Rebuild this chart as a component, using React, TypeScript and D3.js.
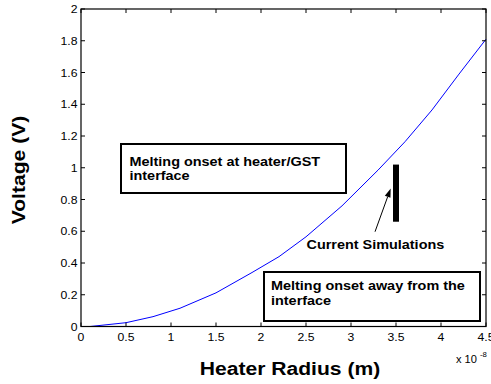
import React from "react";
import * as d3 from "d3";

// Heater radius (units of 1e-8 m) and required voltage (V)
const radius = [0.1, 0.5, 0.8, 1.1, 1.5, 1.9, 2.2, 2.5, 2.9, 3.3, 3.6, 3.9, 4.2, 4.5];
const voltage = [0.0, 0.024, 0.062, 0.115, 0.212, 0.34, 0.44, 0.565, 0.76, 0.985, 1.164, 1.364, 1.59, 1.81];

const xTicks = [0, 0.5, 1, 1.5, 2, 2.5, 3, 3.5, 4, 4.5];
const yTicks = [0, 0.2, 0.4, 0.6, 0.8, 1, 1.2, 1.4, 1.6, 1.8, 2];

// Range of the current simulations (radius, voltage span)
const simRadius = 3.5;
const simVoltage = [0.66, 1.02];
// Arrow from the label to the simulation bar
const arrowFrom = [3.267, 0.597];
const arrowTo = [3.441, 0.87];

const W = 491;
const H = 384;
const M = { left: 81, right: 486, top: 9, bottom: 326.5 };
const SX = 1.11;
const FONT = "'Liberation Sans', Arial, Helvetica, sans-serif";

type TProps = {
  x: number;
  y: number;
  size: number;
  anchor?: "start" | "middle" | "end";
  weight?: string | number;
  rotate?: number;
  children: React.ReactNode;
};

function Label({ x, y, size, anchor = "start", weight = "normal", rotate = 0, children }: TProps) {
  return (
    <text
      transform={`translate(${x},${y}) rotate(${rotate}) scale(${SX},1)`}
      textAnchor={anchor}
      fontSize={size}
      fontWeight={weight}
      fontFamily={FONT}
      fill="#000"
    >
      {children}
    </text>
  );
}

export default function App() {
  const x = d3.scaleLinear().domain([0, 4.5]).range([M.left, M.right]);
  const y = d3.scaleLinear().domain([0, 2]).range([M.bottom, M.top]);

  const pts: [number, number][] = radius.map((r, i) => [r, voltage[i]]);
  const line = d3
    .line<[number, number]>()
    .x((d) => x(d[0]))
    .y((d) => y(d[1]))(pts);

  const tickLen = 4;

  // arrow head geometry
  const ax0 = x(arrowFrom[0]);
  const ay0 = y(arrowFrom[1]);
  const ax1 = x(arrowTo[0]);
  const ay1 = y(arrowTo[1]);
  const ang = Math.atan2(ay1 - ay0, ax1 - ax0);
  const headLen = 9;
  const headW = 3;
  const bx = ax1 - headLen * Math.cos(ang);
  const by = ay1 - headLen * Math.sin(ang);
  const px = -Math.sin(ang) * headW;
  const py = Math.cos(ang) * headW;
  const head = `M${ax1},${ay1} L${bx + px},${by + py} L${bx - px},${by - py} Z`;

  return (
    <div style={{ position: "absolute", left: 0, top: 0 }}>
      <svg width={W} height={H} style={{ display: "block", background: "#fff" }}>
        <rect x={0} y={0} width={W} height={H} fill="#fff" />

        {/* curve */}
        <path d={line ?? ""} fill="none" stroke="#0000ff" strokeWidth={1} />

        {/* frame */}
        <rect
          x={M.left}
          y={M.top}
          width={M.right - M.left}
          height={M.bottom - M.top}
          fill="none"
          stroke="#000"
          strokeWidth={1.2}
        />

        {/* x ticks */}
        {xTicks.map((t) => (
          <g key={`x${t}`}>
            <line x1={x(t)} x2={x(t)} y1={M.bottom} y2={M.bottom - tickLen} stroke="#000" />
            <line x1={x(t)} x2={x(t)} y1={M.top} y2={M.top + tickLen} stroke="#000" />
            <Label x={x(t)} y={340.5} size={11} anchor="middle">
              {String(t)}
            </Label>
          </g>
        ))}

        {/* y ticks */}
        {yTicks.map((t) => (
          <g key={`y${t}`}>
            <line x1={M.left} x2={M.left + tickLen} y1={y(t)} y2={y(t)} stroke="#000" />
            <line x1={M.right} x2={M.right - tickLen} y1={y(t)} y2={y(t)} stroke="#000" />
            <Label x={77.5} y={y(t) + 4} size={11} anchor="end">
              {String(t)}
            </Label>
          </g>
        ))}

        {/* exponent */}
        <Label x={456} y={362.5} size={10}>
          x 10
        </Label>
        <Label x={480} y={357} size={7}>
          -8
        </Label>

        {/* axis titles */}
        <Label x={290} y={375} size={19} anchor="middle" weight="bold">
          Heater Radius (m)
        </Label>
        <Label x={25} y={170} size={19} anchor="middle" weight="bold" rotate={-90}>
          Voltage (V)
        </Label>

        {/* simulation range bar */}
        <line
          x1={x(simRadius)}
          x2={x(simRadius)}
          y1={y(simVoltage[0])}
          y2={y(simVoltage[1])}
          stroke="#000"
          strokeWidth={6}
        />
        <line x1={ax0} y1={ay0} x2={bx} y2={by} stroke="#000" strokeWidth={1} />
        <path d={head} fill="#000" />
        <Label x={306.5} y={249} size={13} weight="bold">
          Current Simulations
        </Label>

        {/* annotation boxes */}
        <rect x={121} y={144} width={225} height={49} fill="#fff" stroke="#000" strokeWidth={2} />
        <Label x={129.5} y={166} size={13} weight="bold">
          Melting onset at heater/GST
        </Label>
        <Label x={129.5} y={180} size={13} weight="bold">
          interface
        </Label>

        <rect x={264} y={272} width={216} height={49} fill="#fff" stroke="#000" strokeWidth={2} />
        <Label x={271} y={289.5} size={13} weight="bold">
          Melting onset away from the
        </Label>
        <Label x={271} y={305} size={13} weight="bold">
          interface
        </Label>
      </svg>
    </div>
  );
}
